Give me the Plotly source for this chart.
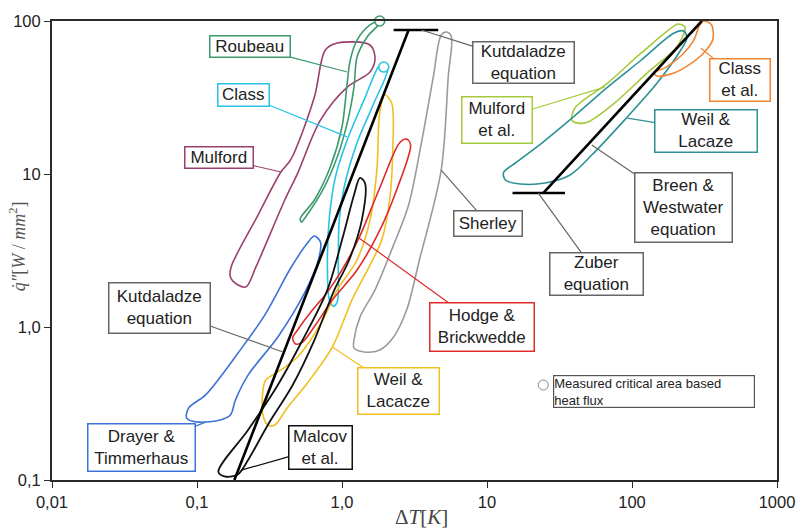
import math
import plotly.graph_objects as go

# ---- boiling-curve envelopes (ΔT in K, heat flux in W/mm²) ----
mulford_dT = [0.443, 0.379, 0.264, 0.172, 0.170, 0.192, 0.218, 0.255, 0.403, 0.494, 0.710, 1.086, 1.56, 1.69, 1.56, 0.927, 0.767, 0.645, 0.443]
mulford_q = [12.4, 10.3, 5.4, 2.47, 2.12, 1.88, 1.83, 2.47, 6.76, 10.1, 22.5, 37.0, 46.4, 57.3, 69.7, 71.8, 64.6, 31.9, 12.4]

roubeau_dT = [1.0, 1.086, 1.14, 1.27, 1.56, 1.80, 1.82, 1.49, 1.27, 1.21, 1.086, 0.927, 0.755, 0.561, 0.526, 0.515, 0.645, 0.83, 1.0]
roubeau_q = [20.3, 39.3, 55.6, 75.1, 94.2, 100, 97.0, 78.6, 58.2, 37.0, 21.5, 12.9, 8.22, 5.24, 4.85, 5.1, 6.76, 11.1, 20.3]

class_dT = [1.086, 0.90, 0.819, 0.793, 0.819, 0.871, 0.927, 0.942, 0.957, 1.035, 1.27, 1.66, 2.07, 1.94, 1.82, 1.42, 1.086]
class_q = [16.7, 9.55, 5.24, 2.74, 1.50, 1.37, 1.46, 2.74, 5.0, 8.22, 16.0, 29.1, 49.3, 52.5, 51.6, 30.5, 16.7]

weil_lacacze_dT = [1.17, 0.857, 0.578, 0.423, 0.344, 0.308, 0.285, 0.285, 0.298, 0.379, 0.494, 0.607, 0.755, 0.927, 1.27, 1.56, 1.74, 1.82, 1.97, 2.20, 2.24, 2.13, 1.88, 1.56, 1.17]
weil_lacacze_q = [1.50, 0.739, 0.431, 0.300, 0.229, 0.229, 0.266, 0.387, 0.451, 0.524, 0.637, 0.822, 1.16, 1.75, 2.74, 5.0, 10.6, 25.1, 32.8, 29.1, 14.4, 6.76, 3.70, 2.54, 1.50]

hodge_dT = [1.00, 1.31, 1.82, 2.50, 2.79, 2.97, 2.38, 1.80, 1.27, 0.857, 0.656, 0.535, 0.479, 0.457, 0.494, 0.625, 0.793, 1.00]
hodge_q = [2.36, 3.82, 8.10, 16.0, 16.9, 15.5, 7.86, 4.18, 2.36, 1.50, 1.03, 0.798, 0.774, 0.847, 0.955, 1.29, 1.69, 2.36]

drayer_dT = [0.192, 0.294, 0.443, 0.578, 0.645, 0.710, 0.687, 0.552, 0.361, 0.225, 0.184, 0.170, 0.145, 0.1026, 0.0849, 0.0877, 0.1146, 0.192]
drayer_q = [0.676, 1.20, 2.43, 3.54, 3.93, 3.59, 2.74, 1.67, 0.861, 0.485, 0.333, 0.266, 0.247, 0.239, 0.254, 0.296, 0.360, 0.676]

sherley_dT = [2.88, 3.53, 4.26, 4.83, 5.23, 5.66, 5.40, 4.83, 3.42, 2.79, 2.27, 1.82, 1.42, 1.21, 1.21, 1.33, 1.69, 2.27, 2.88]
sherley_q = [6.27, 16.0, 43.0, 81.0, 84.7, 79.8, 43.0, 10.6, 2.74, 1.29, 0.861, 0.708, 0.687, 0.730, 0.822, 1.16, 1.75, 3.44, 6.27]

malcov_dT = [0.535, 0.793, 1.00, 1.21, 1.33, 1.44, 1.37, 1.12, 0.886, 0.645, 0.457, 0.308, 0.225, 0.192, 0.159, 0.1405, 0.225, 0.361, 0.535]
malcov_q = [0.822, 1.75, 3.70, 7.29, 9.42, 8.73, 5.00, 2.74, 1.75, 0.822, 0.418, 0.229, 0.135, 0.109, 0.105, 0.113, 0.212, 0.418, 0.822]

mulford_al_dT = [67.9, 40.4, 38.5, 42.4, 49.6, 75.8, 127, 204, 232, 232, 221, 207, 116, 67.9]
mulford_al_q = [39.3, 27.0, 22.5, 21.5, 21.9, 29.1, 45.7, 67.6, 87.3, 91.0, 94.5, 95.5, 61.8, 39.3]

weil_lacaze_dT = [67.9, 38.5, 24.0, 15.7, 13.0, 13.4, 17.0, 25.2, 37.4, 52.8, 88.7, 149, 217, 239, 228, 195, 116, 67.9]
weil_lacaze_q = [37.0, 23.2, 16.0, 11.8, 10.2, 9.14, 8.60, 8.73, 9.85, 13.3, 22.5, 39.3, 64.6, 77.4, 86.0, 83.5, 55.6, 37.0]

class_al_dT = [221, 267, 293, 312, 354, 360, 312, 247, 195, 149, 142, 172, 221]
class_al_q = [59.9, 75.1, 94.2, 100, 94.2, 75.1, 61.8, 51.6, 45.7, 43.7, 45.7, 50.0, 59.9]

# ---- correlations ----
kutateladze_dT = [0.181, 2.88]
kutateladze_q = [0.1, 87.3]
kutateladze_cap_dT = [2.27, 4.61]
kutateladze_cap_q = [87.3, 87.3]

zuber_dT = [24.4, 303]
zuber_q = [7.51, 100]
zuber_cap_dT = [15.0, 34.5]
zuber_cap_q = [7.51, 7.51]

# ---- measured critical heat flux points ----
measured_dT = [1.82, 1.94]
measured_q = [100, 50]

# ---- axis ticks ----
x_tickvals = [0.01, 0.1, 1, 10, 100, 1000]
x_ticktext = ["0,01", "0,1", "1,0", "10", "100", "1000"]
y_tickvals = [0.1, 1, 10, 100]
y_ticktext = ["0,1", "1,0", "10", "100"]

C_ROUBEAU = "#3e9a6e"
C_CLASS = "#27c3e6"
C_MULFORD = "#9a3f6f"
C_DRAYER = "#3d72d8"
C_HODGE = "#df2b2b"
C_WEIL_Y = "#f0c020"
C_SHERLEY = "#9b9b9b"
C_MALCOV = "#111111"
C_MULFORD_AL = "#a5c93c"
C_WEIL_T = "#2c9095"
C_CLASS_AL = "#f08633"
C_EQ = "#666666"

fig = go.Figure()


def envelope(x, y, color, width=1.6):
    fig.add_trace(go.Scatter(
        x=x, y=y, mode="lines",
        line=dict(color=color, width=width, shape="spline", smoothing=0.9),
        hoverinfo="skip", showlegend=False))


def straight(x, y, width=2.6):
    fig.add_trace(go.Scatter(
        x=x, y=y, mode="lines", line=dict(color="#000000", width=width),
        hoverinfo="skip", showlegend=False))


envelope(mulford_dT, mulford_q, C_MULFORD)
envelope(drayer_dT, drayer_q, C_DRAYER)
envelope(roubeau_dT, roubeau_q, C_ROUBEAU)
envelope(class_dT, class_q, C_CLASS)
envelope(weil_lacacze_dT, weil_lacacze_q, C_WEIL_Y)
envelope(hodge_dT, hodge_q, C_HODGE)
envelope(sherley_dT, sherley_q, C_SHERLEY)
envelope(malcov_dT, malcov_q, C_MALCOV, 1.8)
envelope(mulford_al_dT, mulford_al_q, C_MULFORD_AL)
envelope(weil_lacaze_dT, weil_lacaze_q, C_WEIL_T)
envelope(class_al_dT, class_al_q, C_CLASS_AL)

straight(kutateladze_dT, kutateladze_q)
straight(kutateladze_cap_dT, kutateladze_cap_q)
straight(zuber_dT, zuber_q)
straight(zuber_cap_dT, zuber_cap_q)

fig.add_trace(go.Scatter(
    x=measured_dT, y=measured_q, mode="markers",
    marker=dict(symbol="circle", size=10, color="white",
                line=dict(color=[C_ROUBEAU, C_CLASS], width=1.6)),
    cliponaxis=False, hoverinfo="skip", showlegend=False))


def label(text, tip_dT, tip_q, ax, ay, w, h, border, lead=None, bw=1.5):
    fig.add_annotation(
        x=math.log10(tip_dT), y=math.log10(tip_q), xref="x", yref="y",
        text=text, showarrow=True, arrowhead=0, arrowwidth=1.2,
        arrowcolor=lead or border, ax=ax, ay=ay, axref="pixel", ayref="pixel",
        width=w - bw, height=h - bw, borderpad=0, borderwidth=bw,
        bordercolor=border, bgcolor="white", align="center", valign="middle",
        font=dict(family="Liberation Sans, Arial, sans-serif", size=17, color="#222222"))


label("Roubeau", 1.086, 46.4, -97, -25.5, 80, 21, C_ROUBEAU)
label("Class", 1.086, 17.5, -103.5, -42, 51, 22, C_CLASS)
label("Mulford", 0.379, 10.3, -62, -14.5, 68, 21, C_MULFORD)
label("Kutdaladze<br>equation", 3.53, 87.3, 102.5, 32.5, 101, 41, C_EQ)
label("Mulford<br>et al.", 64.8, 37.0, -108, 33, 70, 46, C_MULFORD_AL)
label("Class<br>et al.", 298, 66.6, 39, 32, 60, 42, C_CLASS_AL)
label("Weil &<br>Lacaze", 93.0, 23.2, 79, 13, 102, 42, C_WEIL_T)
label("Breen &<br>Westwater<br>equation", 52.8, 15.5, 91.5, 62.5, 97, 69, C_EQ)
label("Zuber<br>equation", 22.6, 7.51, 58.5, 81, 93, 42, C_EQ)
label("Sherley", 4.83, 10.6, 47, 53.5, 68, 25, C_EQ)
label("Hodge &<br>Brickwedde", 1.31, 3.82, 123, 89, 104, 48, C_HODGE)
label("Weil &<br>Lacacze", 0.857, 0.739, 66.5, 44, 81, 46, C_WEIL_Y)
label("Kutdaladze<br>equation", 0.391, 0.687, -123.5, -44, 101, 50, C_EQ)
label("Drayer &<br>Timmerhaus", 0.1146, 0.239, -64.5, 25.5, 107, 47, C_DRAYER)
label("Malcov<br>et al.", 0.202, 0.116, 79.5, -22.5, 63, 43, C_MALCOV)

# key for the measured points
fig.add_annotation(
    x=0.8306, y=0.1928, xref="paper", yref="paper", showarrow=False,
    text="Measured critical area based<br>heat flux", align="left",
    width=200, height=31, borderpad=0, borderwidth=1.2, bordercolor="#555555",
    bgcolor="white", xanchor="center", yanchor="middle",
    font=dict(family="Liberation Sans, Arial, sans-serif", size=13, color="#222222"))
fig.add_shape(type="circle", xref="paper", yref="paper",
              xsizemode="pixel", ysizemode="pixel",
              xanchor=0.6776, yanchor=0.207, x0=-5, x1=5, y0=-5, y1=5,
              line=dict(color="#888888", width=1), fillcolor="white")

# axis titles
fig.add_annotation(
    x=0.51, y=-0.0806, xref="paper", yref="paper", showarrow=False,
    text="Δ<i>T</i>[<i>K</i>]", xanchor="center", yanchor="middle",
    font=dict(family="Liberation Serif, Times New Roman, serif", size=21, color="#444444"))
fig.add_annotation(
    x=-0.0464, y=0.51, xref="paper", yref="paper", showarrow=False,
    text="<i>q̇″</i>[<i>W</i> / <i>mm</i><sup>2</sup>]", textangle=-90,
    xanchor="center", yanchor="middle",
    font=dict(family="Liberation Serif, Times New Roman, serif", size=18, color="#555555"))

axis_common = dict(
    type="log", showgrid=False, zeroline=False, showline=True, mirror=True,
    linecolor="#2a2a2a", linewidth=2, ticks="outside", ticklen=6, tickwidth=1.2,
    tickcolor="#2a2a2a",
    tickfont=dict(family="Liberation Sans, Arial, sans-serif", size=16.5, color="#222222"))

fig.update_xaxes(range=[-2, 3], tickvals=x_tickvals, ticktext=x_ticktext, **axis_common)
fig.update_yaxes(range=[-1, 2], tickvals=y_tickvals, ticktext=y_ticktext, **axis_common)

fig.update_layout(
    width=807, height=530,
    margin=dict(l=52, r=23, t=21, b=50),
    paper_bgcolor="white", plot_bgcolor="white",
    showlegend=False)

fig.write_html("out.html")
